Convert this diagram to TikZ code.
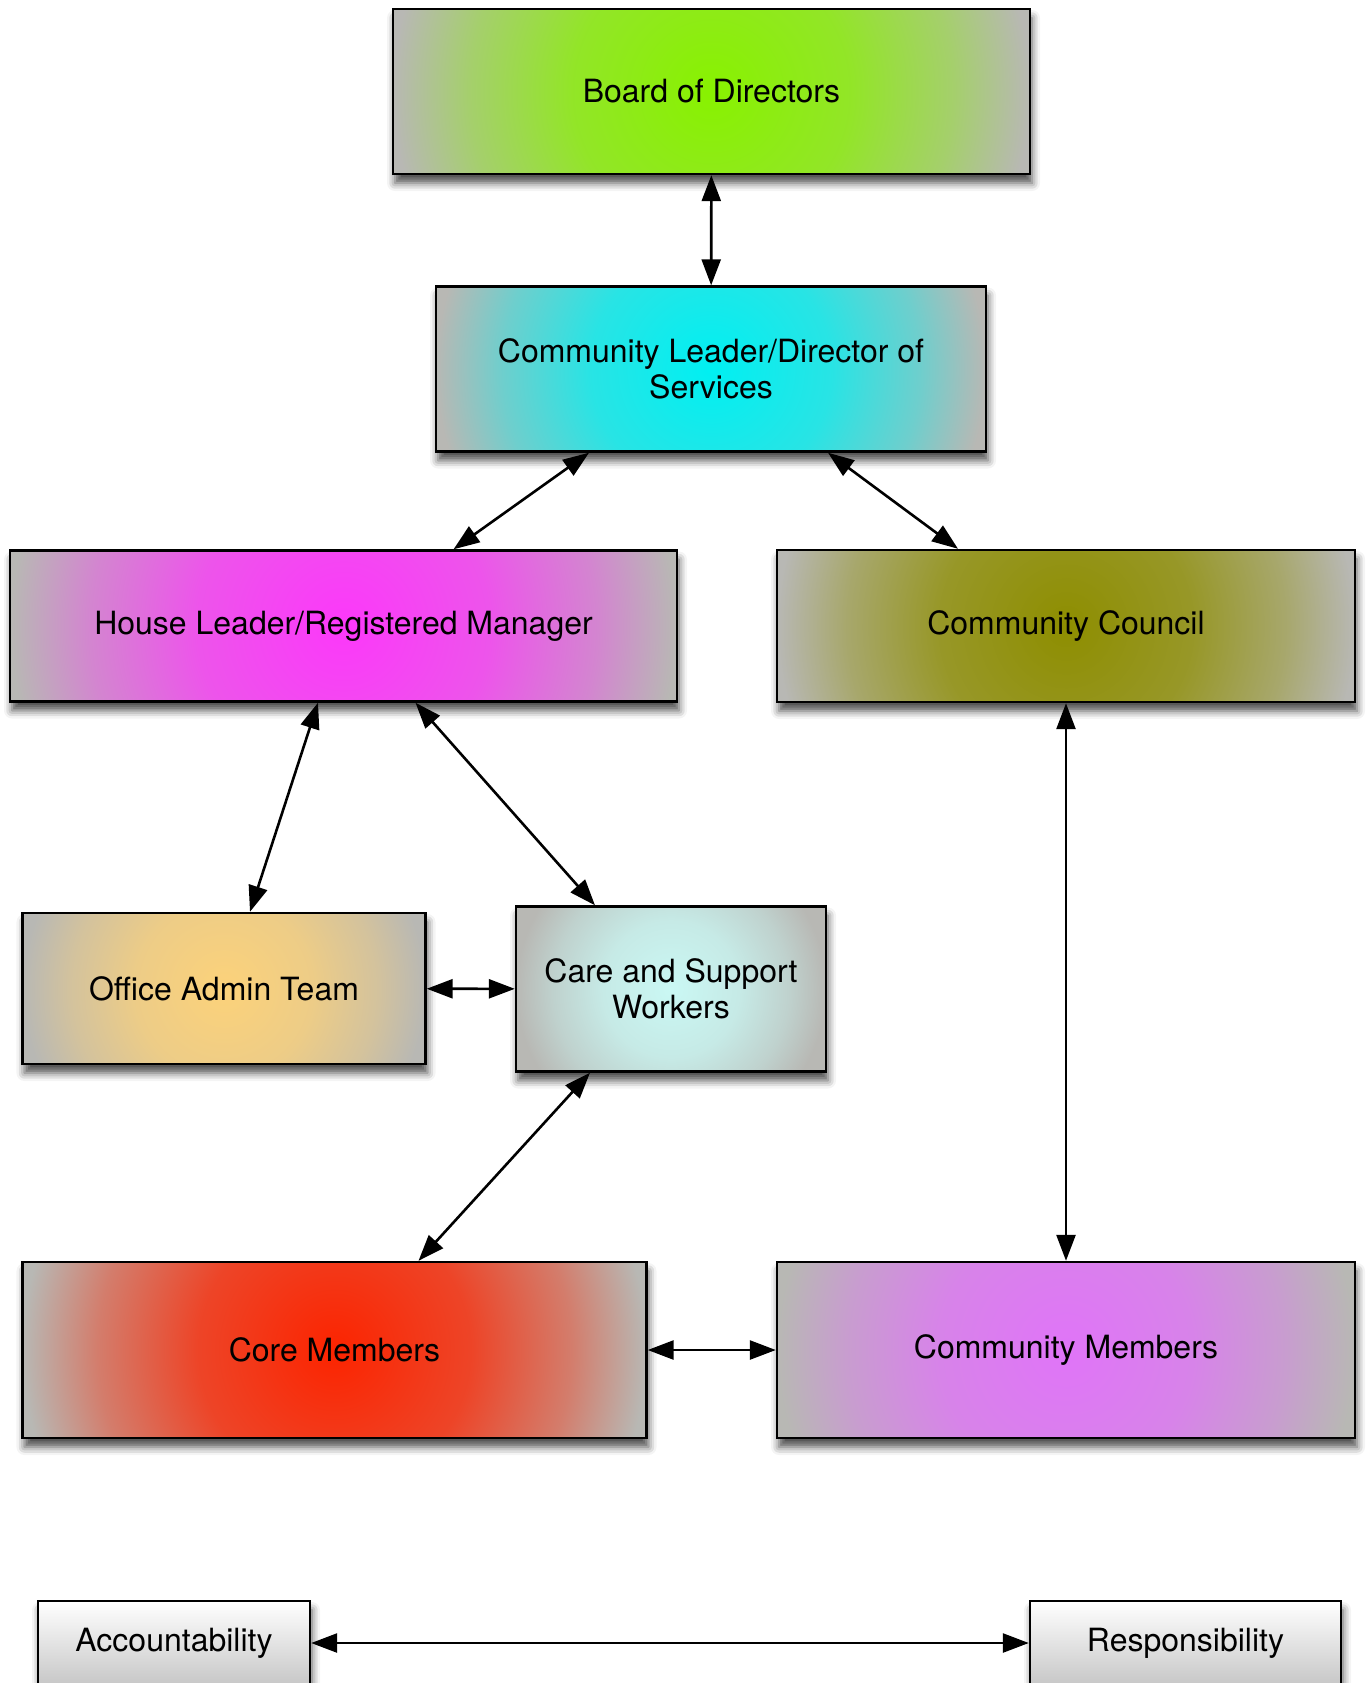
\documentclass[tikz,border=0pt]{standalone}
\usepackage{fontspec}
\setmainfont{TeX Gyre Heros}
\usetikzlibrary{arrows.meta,calc,shadows.blur}
\definecolor{edgegray}{RGB}{184,184,180}
\definecolor{boardgreen}{RGB}{136,242,0}
\definecolor{leadercyan}{RGB}{0,240,242}
\definecolor{housepink}{RGB}{252,56,250}
\definecolor{councilolive}{RGB}{142,142,0}
\definecolor{officeorange}{RGB}{252,210,122}
\definecolor{careice}{RGB}{202,248,244}
\definecolor{corered}{RGB}{252,36,0}
\definecolor{memberviolet}{RGB}{224,116,248}
\colorlet{teaminner}{white}
\pgfdeclareradialshading[teaminner]{teamglow}{\pgfpointorigin}{color(0bp)=(teaminner); color(11bp)=(teaminner!78!edgegray); color(19bp)=(teaminner!40!edgegray); color(25bp)=(edgegray); color(50bp)=(edgegray)}
\tikzset{basic/.style={draw,line width=1.2pt,inner sep=0pt,align=center,font=\fontsize{16}{18.25}\selectfont}}
\tikzset{softshadow/.style={blur shadow={shadow xshift=1pt,shadow yshift=-4.5pt,shadow blur radius=4pt,shadow opacity=70}}}
\tikzset{teambox/.style={basic,softshadow,fill=edgegray,path picture={\colorlet{teaminner}{#1}\shade[shading=teamglow] let \p1=(path picture bounding box.east),\p2=(path picture bounding box.center) in (\p2) circle ({\x1-\x2});}}}
\tikzset{keybox/.style={basic,softshadow,top color=white,bottom color=black!22,minimum height=42pt}}
\tikzset{arrow/.style={draw,line width=1.3pt,{Triangle[length=13pt,width=9.5pt]}-{Triangle[length=13pt,width=9.5pt]}}}

\begin{document}
\begin{tikzpicture}[x=0.5pt,y=-0.5pt]
    \useasboundingbox (0,0) rectangle (1367,1683);
    \node[teambox=boardgreen,minimum width=318.5pt,minimum height=82.5pt] (board) at (711.5,91.5) {Board of Directors};
    \node[teambox=leadercyan,minimum width=275pt,minimum height=82.5pt] (leader) at (711,369) {Community Leader/Director of\\Services};
    \node[teambox=housepink,minimum width=333.5pt,minimum height=75.5pt] (house) at (343.5,626) {House Leader/Registered Manager};
    \node[teambox=councilolive,minimum width=289pt,minimum height=76pt] (council) at (1066,626) {Community Council};
    \node[teambox=officeorange,minimum width=201.5pt,minimum height=75.5pt] (office) at (224,988.5) {Office Admin Team};
    \node[teambox=careice,minimum width=155pt,minimum height=82.5pt] (care) at (671,989) {Care and Support\\Workers};
    \node[teambox=corered,minimum width=312pt,minimum height=88pt] (core) at (334.5,1350) {Core Members};
    \node[teambox=memberviolet,minimum width=289pt,minimum height=88pt] (members) at (1066,1350) {Community Members};

     \node[keybox,minimum width=136pt] (acc) at (174,1643) {Accountability};
     \node[keybox,minimum width=155.5pt] (resp) at (1185.5,1643) {Responsibility};

        \path[arrow] (board) -- (leader);
        \path[arrow] ([xshift=-61pt]leader.south) -- ([xshift=55pt]house.north);
        \path[arrow] ([xshift=58.5pt]leader.south) -- ([xshift=-54pt]council.north);
        \path[arrow] ([xshift=-12.75pt]house.south) -- ([xshift=13pt]office.north);
        \path[arrow] ([xshift=36pt]house.south) -- ([xshift=-38pt]care.north);
        \path[arrow] (office) -- (care);
        \path[arrow] ([xshift=-40.5pt]care.south) -- ([xshift=42pt]core.north);
        \path[arrow] (council) -- (members);
        \path[arrow] (core) -- (members);
        \path[arrow] (acc) -- (resp);
\end{tikzpicture}
\end{document}
